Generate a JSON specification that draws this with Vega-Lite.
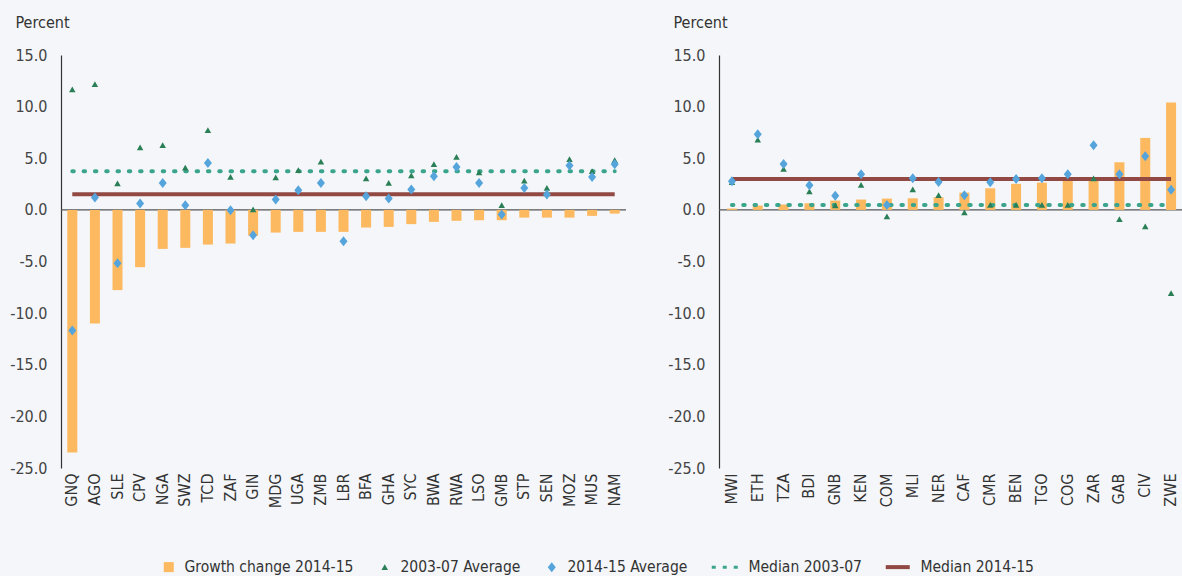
{
  "$schema": "https://vega.github.io/schema/vega-lite/v6.json",
  "padding": {"left": 9, "top": 14, "right": 0, "bottom": 0},
  "datasets": {
    "left": [
      {"country": "GNQ", "growth": -23.5, "avg0307": 11.65, "avg1415": -11.68},
      {"country": "AGO", "growth": -11.0, "avg0307": 12.17, "avg1415": 1.19},
      {"country": "SLE", "growth": -7.77, "avg0307": 2.55, "avg1415": -5.16},
      {"country": "CPV", "growth": -5.55, "avg0307": 6.03, "avg1415": 0.61},
      {"country": "NGA", "growth": -3.78, "avg0307": 6.26, "avg1415": 2.61},
      {"country": "SWZ", "growth": -3.68, "avg0307": 4.07, "avg1415": 0.45},
      {"country": "TCD", "growth": -3.36, "avg0307": 7.71, "avg1415": 4.55},
      {"country": "ZAF", "growth": -3.26, "avg0307": 3.19, "avg1415": -0.03},
      {"country": "GIN", "growth": -2.5, "avg0307": 0.03, "avg1415": -2.45},
      {"country": "MDG", "growth": -2.2, "avg0307": 3.13, "avg1415": 1.0},
      {"country": "UGA", "growth": -2.13, "avg0307": 3.84, "avg1415": 1.9},
      {"country": "ZMB", "growth": -2.13, "avg0307": 4.65, "avg1415": 2.61},
      {"country": "LBR", "growth": -2.13, "avg0307": null, "avg1415": -3.03},
      {"country": "BFA", "growth": -1.71, "avg0307": 3.03, "avg1415": 1.33},
      {"country": "GHA", "growth": -1.65, "avg0307": 2.61, "avg1415": 1.09},
      {"country": "SYC", "growth": -1.38, "avg0307": 3.32, "avg1415": 1.97},
      {"country": "BWA", "growth": -1.16, "avg0307": 4.42, "avg1415": 3.26},
      {"country": "RWA", "growth": -1.06, "avg0307": 5.13, "avg1415": 4.16},
      {"country": "LSO", "growth": -1.0, "avg0307": 3.61, "avg1415": 2.61},
      {"country": "GMB", "growth": -1.0, "avg0307": 0.45, "avg1415": -0.45},
      {"country": "STP", "growth": -0.75, "avg0307": 2.81, "avg1415": 2.13},
      {"country": "SEN", "growth": -0.75, "avg0307": 2.13, "avg1415": 1.48},
      {"country": "MOZ", "growth": -0.75, "avg0307": 4.91, "avg1415": 4.29},
      {"country": "MUS", "growth": -0.58, "avg0307": 3.75, "avg1415": 3.19},
      {"country": "NAM", "growth": -0.36, "avg0307": 4.81, "avg1415": 4.42}
    ],
    "leftMed": [
      {"series": "med0307", "from": "GNQ", "to": "NAM", "value": 3.75},
      {"series": "med1415", "from": "GNQ", "to": "NAM", "value": 1.52}
    ],
    "right": [
      {"country": "MWI", "growth": 0.13, "avg0307": 2.67, "avg1415": 2.77},
      {"country": "ETH", "growth": 0.42, "avg0307": 6.78, "avg1415": 7.32},
      {"country": "TZA", "growth": 0.51, "avg0307": 3.97, "avg1415": 4.45},
      {"country": "BDI", "growth": 0.64, "avg0307": 1.77, "avg1415": 2.38},
      {"country": "GNB", "growth": 0.9, "avg0307": 0.42, "avg1415": 1.36},
      {"country": "KEN", "growth": 1.0, "avg0307": 2.42, "avg1415": 3.45},
      {"country": "COM", "growth": 1.09, "avg0307": -0.65, "avg1415": 0.48},
      {"country": "MLI", "growth": 1.12, "avg0307": 1.97, "avg1415": 3.06},
      {"country": "NER", "growth": 1.22, "avg0307": 1.41, "avg1415": 2.71},
      {"country": "CAF", "growth": 1.67, "avg0307": -0.26, "avg1415": 1.41},
      {"country": "CMR", "growth": 2.09, "avg0307": 0.48, "avg1415": 2.67},
      {"country": "BEN", "growth": 2.52, "avg0307": 0.48, "avg1415": 3.0},
      {"country": "TGO", "growth": 2.64, "avg0307": 0.48, "avg1415": 3.06},
      {"country": "COG", "growth": 2.84, "avg0307": 0.48, "avg1415": 3.45},
      {"country": "ZAR", "growth": 3.16, "avg0307": 3.03, "avg1415": 6.25},
      {"country": "GAB", "growth": 4.61, "avg0307": -0.91, "avg1415": 3.45},
      {"country": "CIV", "growth": 6.97, "avg0307": -1.62, "avg1415": 5.19},
      {"country": "ZWE", "growth": 10.39, "avg0307": -8.07, "avg1415": 1.94}
    ],
    "rightMed": [
      {"series": "med0307", "from": "MWI", "to": "ZWE", "value": 0.48},
      {"series": "med1415", "from": "MWI", "to": "ZWE", "value": 3.0}
    ]
  },
  "hconcat": [
    {
      "width": 565,
      "height": 413,
      "layer": [
        {
          "data": {"values": [{"zero": 0}]},
          "mark": {"type": "rule", "color": "#555555", "strokeWidth": 1.2},
          "encoding": {"y": {"field": "zero", "type": "quantitative", "title": "Percent", "scale": {"domain": [-25, 15], "nice": false, "zero": false}}}
        },
        {
          "data": {"name": "left"},
          "mark": {"type": "bar", "color": "#fdb95f", "size": 10},
          "encoding": {
            "x": {"field": "country", "type": "nominal", "sort": null, "title": null, "scale": {"paddingInner": 0, "paddingOuter": 0}},
            "y": {"field": "growth", "type": "quantitative", "title": "Percent", "scale": {"domain": [-25, 15], "nice": false, "zero": false}}
          }
        },
        {
          "data": {"name": "leftMed"},
          "transform": [{"filter": "datum.series == 'med0307'"}],
          "mark": {"type": "rule", "color": "#3aa58c", "strokeWidth": 4, "strokeDash": [1.5, 9.8], "strokeCap": "round"},
          "encoding": {
            "x": {"field": "from", "type": "nominal", "sort": null, "title": null},
            "x2": {"field": "to"},
            "y": {"field": "value", "type": "quantitative", "title": "Percent", "scale": {"domain": [-25, 15], "nice": false, "zero": false}}
          }
        },
        {
          "data": {"name": "leftMed"},
          "transform": [{"filter": "datum.series == 'med1415'"}],
          "mark": {"type": "rule", "color": "#924843", "strokeWidth": 4},
          "encoding": {
            "x": {"field": "from", "type": "nominal", "sort": null, "title": null},
            "x2": {"field": "to"},
            "y": {"field": "value", "type": "quantitative", "title": "Percent", "scale": {"domain": [-25, 15], "nice": false, "zero": false}}
          }
        },
        {
          "data": {"name": "left"},
          "transform": [{"fold": ["avg0307", "avg1415"], "as": ["series", "value"]}],
          "mark": {"type": "point", "filled": true, "size": 100, "opacity": 1},
          "encoding": {
            "x": {"field": "country", "type": "nominal", "sort": null, "title": null},
            "y": {"field": "value", "type": "quantitative", "title": "Percent", "scale": {"domain": [-25, 15], "nice": false, "zero": false}},
            "color": {
              "field": "series", "type": "nominal",
              "scale": {"domain": ["growth", "avg0307", "avg1415", "med0307", "med1415"], "range": ["#fdb95f", "#2a7f56", "#55a4dc", "#3aa58c", "#924843"]},
              "legend": {
                "title": null, "orient": "none", "legendX": 100, "legendY": 504, "direction": "horizontal", "columns": 5,
                "symbolSize": 100, "symbolStrokeWidth": 0, "symbolOpacity": 1, "labelFontSize": 15.5, "labelColor": "#333333",
                "labelOffset": 8, "columnPadding": 23, "labelLimit": 300,
                "labelExpr": "datum.label == 'growth' ? 'Growth change 2014-15' : datum.label == 'avg0307' ? '2003-07 Average' : datum.label == 'avg1415' ? '2014-15 Average' : datum.label == 'med0307' ? 'Median 2003-07' : 'Median 2014-15'"
              }
            },
            "shape": {
              "field": "series", "type": "nominal",
              "scale": {"domain": ["growth", "avg0307", "avg1415", "med0307", "med1415"], "range": ["square", "M0,-0.6L0.65,0.55L-0.65,0.55Z", "M0,-1L0.8,0L0,1L-0.8,0Z", "M-4.2,-0.3h0.8v0.6h-0.8Z M-2,-0.3h0.8v0.6h-0.8Z M0.2,-0.3h0.8v0.6h-0.8Z", "M-3.8,-0.4h4.8v0.8h-4.8Z"]}
            }
          }
        }
      ]
    },
    {
      "width": 465,
      "height": 413,
      "layer": [
        {
          "data": {"values": [{"zero": 0}]},
          "mark": {"type": "rule", "color": "#555555", "strokeWidth": 1.2},
          "encoding": {"y": {"field": "zero", "type": "quantitative", "title": "Percent", "scale": {"domain": [-25, 15], "nice": false, "zero": false}}}
        },
        {
          "data": {"name": "right"},
          "mark": {"type": "bar", "color": "#fdb95f", "size": 10},
          "encoding": {
            "x": {"field": "country", "type": "nominal", "sort": null, "title": null, "scale": {"paddingInner": 0, "paddingOuter": 0}},
            "y": {"field": "growth", "type": "quantitative", "title": "Percent", "scale": {"domain": [-25, 15], "nice": false, "zero": false}}
          }
        },
        {
          "data": {"name": "rightMed"},
          "transform": [{"filter": "datum.series == 'med0307'"}],
          "mark": {"type": "rule", "color": "#3aa58c", "strokeWidth": 4, "strokeDash": [1.5, 9.8], "strokeCap": "round"},
          "encoding": {
            "x": {"field": "from", "type": "nominal", "sort": null, "title": null},
            "x2": {"field": "to"},
            "y": {"field": "value", "type": "quantitative", "title": "Percent", "scale": {"domain": [-25, 15], "nice": false, "zero": false}}
          }
        },
        {
          "data": {"name": "rightMed"},
          "transform": [{"filter": "datum.series == 'med1415'"}],
          "mark": {"type": "rule", "color": "#924843", "strokeWidth": 4},
          "encoding": {
            "x": {"field": "from", "type": "nominal", "sort": null, "title": null},
            "x2": {"field": "to"},
            "y": {"field": "value", "type": "quantitative", "title": "Percent", "scale": {"domain": [-25, 15], "nice": false, "zero": false}}
          }
        },
        {
          "data": {"name": "right"},
          "transform": [{"fold": ["avg0307", "avg1415"], "as": ["series", "value"]}],
          "mark": {"type": "point", "filled": true, "size": 100, "opacity": 1},
          "encoding": {
            "x": {"field": "country", "type": "nominal", "sort": null, "title": null},
            "y": {"field": "value", "type": "quantitative", "title": "Percent", "scale": {"domain": [-25, 15], "nice": false, "zero": false}},
            "color": {
              "field": "series", "type": "nominal",
              "scale": {"domain": ["growth", "avg0307", "avg1415", "med0307", "med1415"], "range": ["#fdb95f", "#2a7f56", "#55a4dc", "#3aa58c", "#924843"]}
            },
            "shape": {
              "field": "series", "type": "nominal",
              "scale": {"domain": ["growth", "avg0307", "avg1415", "med0307", "med1415"], "range": ["square", "M0,-0.6L0.65,0.55L-0.65,0.55Z", "M0,-1L0.8,0L0,1L-0.8,0Z", "M-4.2,-0.3h0.8v0.6h-0.8Z M-2,-0.3h0.8v0.6h-0.8Z M0.2,-0.3h0.8v0.6h-0.8Z", "M-3.8,-0.4h4.8v0.8h-4.8Z"]}
            }
          }
        }
      ]
    }
  ],
  "config": {
    "background": "#f4f6f9",
    "font": "DejaVu Sans Condensed, sans-serif",
    "view": {"stroke": null},
    "concat": {"spacing": 40},
    "legend": {"labelFont": "DejaVu Sans Condensed, sans-serif"},
    "axisY": {
      "titleAngle": 0, "titleAlign": "left", "titleBaseline": "alphabetic", "titleX": -46, "titleY": -28,
      "titleFontSize": 16, "titleFontWeight": "normal", "titleColor": "#333333", "titleFont": "DejaVu Sans Condensed, sans-serif",
      "values": [-25, -20, -15, -10, -5, 0, 5, 10, 15], "format": ".1f",
      "labelExpr": "replace(datum.label, '\u2212', '-')",
      "labelFontSize": 16, "labelColor": "#444444", "labelPadding": 14, "labelFont": "DejaVu Sans Condensed, sans-serif",
      "ticks": false, "grid": false, "domainColor": "#333333", "domainWidth": 1.2
    },
    "axisX": {
      "labelAngle": -90, "labelFontSize": 16, "labelColor": "#333333", "labelPadding": 5, "labelFont": "DejaVu Sans Condensed, sans-serif",
      "ticks": false, "domain": false, "grid": false
    }
  }
}
